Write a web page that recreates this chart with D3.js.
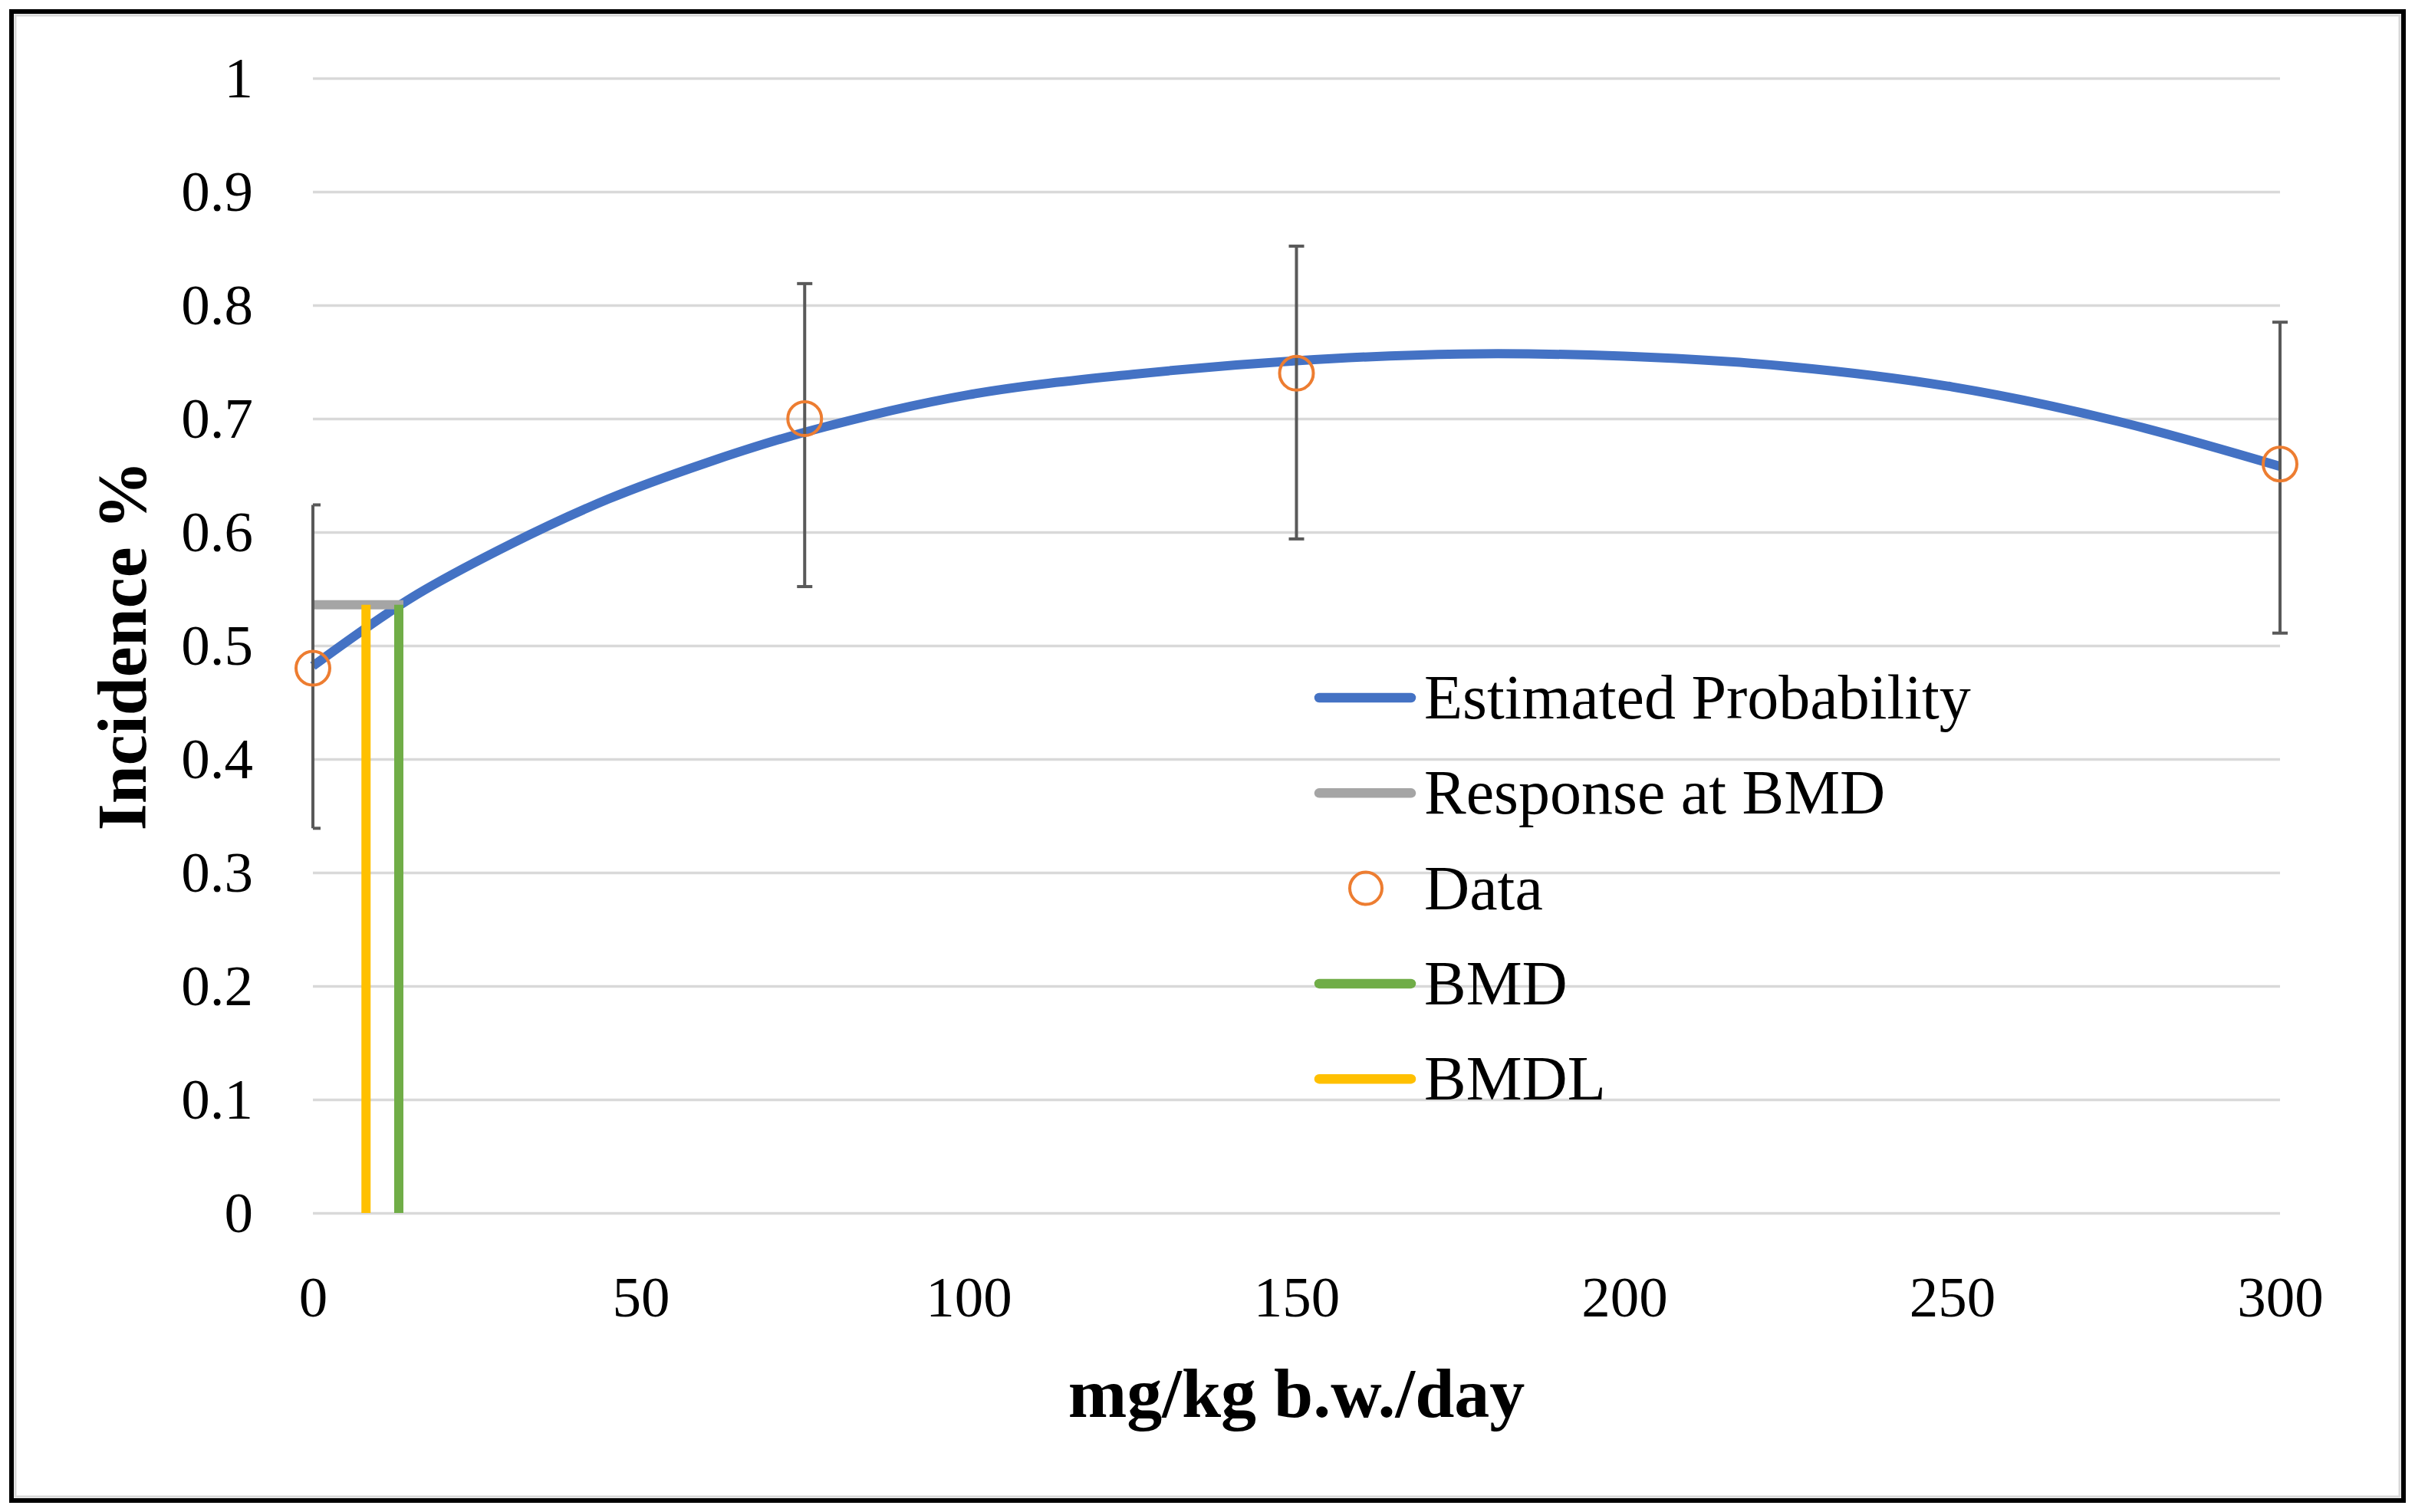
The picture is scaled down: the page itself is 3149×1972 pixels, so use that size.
<!DOCTYPE html>
<html>
<head>
<meta charset="utf-8">
<script src="https://cdn.jsdelivr.net/npm/d3@7"></script>
<style>
  body { margin: 0; background: #fff; }
  text { font-family: "Palatino Linotype", "Book Antiqua", Palatino, "Liberation Serif", serif; fill: #000; }
</style>
</head>
<body>
<div id="chart"></div>
<script>
// observed data (dose groups)
var doses = [0, 75, 150, 300];
var incidence = [0.48, 0.70, 0.74, 0.66];
var ciLower = [0.339, 0.552, 0.594, 0.511];
var ciUpper = [0.624, 0.819, 0.852, 0.785];

// fitted curve
var curveDose = [0, 15, 30, 45, 60, 75, 100, 125, 150, 175, 200, 225, 250, 275, 300];
var curveProb = [0.482, 0.542, 0.589, 0.629, 0.661, 0.688, 0.721, 0.739, 0.751, 0.757, 0.755, 0.746, 0.728, 0.698, 0.658];

// benchmark values
var bmd = 13.1, bmdl = 8.1, bmdResponse = 0.536;

var xTicks = [0, 50, 100, 150, 200, 250, 300];
var yTicks = [0, 0.1, 0.2, 0.3, 0.4, 0.5, 0.6, 0.7, 0.8, 0.9, 1];

var legendItems = ["Estimated Probability", "Response at BMD", "Data", "BMD", "BMDL"];
var legendColors = ["#4472C4", "#A5A5A5", "#ED7D31", "#70AD47", "#FFC000"];

var W = 3149, H = 1972;
var margin = {top: 102, right: 176, bottom: 390, left: 408},
    width = W - margin.left - margin.right,
    height = H - margin.top - margin.bottom;

var svg = d3.select("#chart").append("svg")
    .attr("width", W)
    .attr("height", H);

// frame
svg.append("rect").attr("x", 20).attr("y", 20).attr("width", W - 40).attr("height", H - 40)
    .attr("fill", "none").attr("stroke", "#d9d9d9").attr("stroke-width", 3);
svg.append("rect").attr("x", 15).attr("y", 15).attr("width", W - 30).attr("height", H - 30)
    .attr("fill", "none").attr("stroke", "#000").attr("stroke-width", 6);

var g = svg.append("g")
    .attr("transform", "translate(" + margin.left + "," + margin.top + ")");

var x = d3.scaleLinear().domain([0, 300]).range([0, width]);
var y = d3.scaleLinear().domain([0, 1]).range([height, 0]);

// gridlines
var grid = g.append("g").call(d3.axisLeft(y).tickValues(yTicks).tickSize(-width).tickFormat(""));
grid.select(".domain").remove();
grid.selectAll("line").attr("stroke", "#d9d9d9").attr("stroke-width", 3.5);

// y tick labels
var yAxis = g.append("g").attr("transform", "translate(-78,0)")
    .call(d3.axisLeft(y).tickValues(yTicks).tickSize(0).tickPadding(0).tickFormat(d3.format("")));
yAxis.select(".domain").remove();
yAxis.selectAll("text").style("font-size", "75px").attr("dy", "0.33em")
    .style("font-family", "'Liberation Serif', serif").attr("fill", "#000");

// x tick labels
var xAxis = g.append("g").attr("transform", "translate(0," + height + ")")
    .call(d3.axisBottom(x).tickValues(xTicks).tickSize(0).tickPadding(0).tickFormat(d3.format("d")));
xAxis.select(".domain").remove();
xAxis.selectAll("text").style("font-size", "75px").attr("dy", "0").attr("y", 135)
    .style("font-family", "'Liberation Serif', serif").attr("fill", "#000");

// fitted curve
var curveData = curveDose.map(function(d, i) { return {dose: d, p: curveProb[i]}; });
var line = d3.line()
    .x(function(d) { return x(d.dose); })
    .y(function(d) { return y(d.p); })
    .curve(d3.curveCatmullRom.alpha(0.5));
g.append("path").datum(curveData)
    .attr("d", line)
    .attr("fill", "none")
    .attr("stroke", "#4472C4")
    .attr("stroke-width", 12);

// response at BMD and BMD / BMDL markers
g.append("line")
    .attr("x1", x(0)).attr("x2", x(bmd) + 6)
    .attr("y1", y(bmdResponse)).attr("y2", y(bmdResponse))
    .attr("stroke", "#A5A5A5").attr("stroke-width", 12);
g.append("line")
    .attr("x1", x(bmdl)).attr("x2", x(bmdl))
    .attr("y1", y(0)).attr("y2", y(bmdResponse))
    .attr("stroke", "#FFC000").attr("stroke-width", 12);
g.append("line")
    .attr("x1", x(bmd)).attr("x2", x(bmd))
    .attr("y1", y(0)).attr("y2", y(bmdResponse))
    .attr("stroke", "#70AD47").attr("stroke-width", 12);

// error bars
var obs = doses.map(function(d, i) {
  return {dose: d, p: incidence[i], lo: ciLower[i], hi: ciUpper[i]};
});
var capHalf = 10;
var eb = g.append("g").attr("stroke", "#595959").attr("stroke-width", 4);
eb.selectAll(".stem").data(obs).enter().append("line")
    .attr("x1", function(d) { return x(d.dose); })
    .attr("x2", function(d) { return x(d.dose); })
    .attr("y1", function(d) { return y(d.lo); })
    .attr("y2", function(d) { return y(d.hi); });
["lo", "hi"].forEach(function(k) {
  eb.selectAll(".cap-" + k).data(obs).enter().append("line")
      .attr("x1", function(d) { return Math.max(x(d.dose) - capHalf, x(0)); })
      .attr("x2", function(d) { return x(d.dose) + capHalf; })
      .attr("y1", function(d) { return y(d[k]); })
      .attr("y2", function(d) { return y(d[k]); });
});

// data points
g.selectAll(".pt").data(obs).enter().append("circle")
    .attr("cx", function(d) { return x(d.dose); })
    .attr("cy", function(d) { return y(d.p); })
    .attr("r", 22)
    .attr("fill", "none")
    .attr("stroke", "#ED7D31")
    .attr("stroke-width", 4);

// legend
var lg = svg.append("g").attr("transform", "translate(1714,910)");
var rowH = 124.3;
legendItems.forEach(function(name, i) {
  var row = lg.append("g").attr("transform", "translate(0," + (i * rowH) + ")");
  if (name === "Data") {
    row.append("circle").attr("cx", 67).attr("cy", 0).attr("r", 21)
        .attr("fill", "none").attr("stroke", legendColors[i]).attr("stroke-width", 4);
  } else {
    row.append("line").attr("x1", 6).attr("x2", 126).attr("y1", 0).attr("y2", 0)
        .attr("stroke", legendColors[i]).attr("stroke-width", 12.5)
        .attr("stroke-linecap", "round");
  }
  row.append("text").attr("x", 143).attr("y", 27)
      .style("font-size", "82px")
      .text(name);
});

// axis titles
svg.append("text")
    .attr("x", margin.left + width / 2)
    .attr("y", 1848)
    .style("text-anchor", "middle")
    .style("font-size", "92px")
    .style("font-weight", "bold")
    .text("mg/kg b.w./day");

svg.append("text")
    .attr("transform", "translate(190," + (margin.top + height / 2) + ") rotate(-90)")
    .style("text-anchor", "middle")
    .style("font-size", "90px")
    .style("font-weight", "bold")
    .text("Incidence %");
</script>
</body>
</html>
